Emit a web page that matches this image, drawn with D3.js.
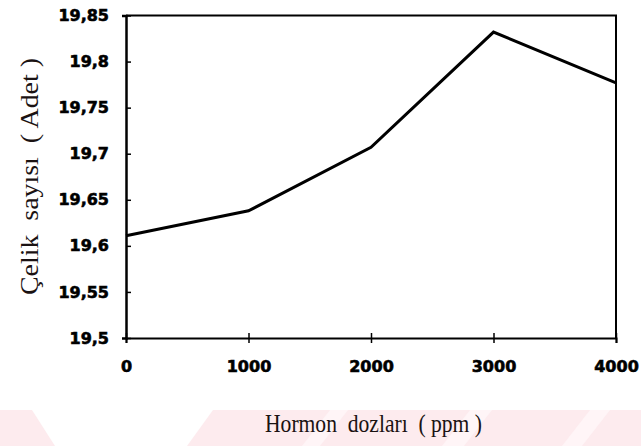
<!DOCTYPE html>
<html>
<head>
<meta charset="utf-8">
<script src="https://cdn.jsdelivr.net/npm/d3@7.9.0/dist/d3.min.js"></script>
<style>
  html, body { margin: 0; padding: 0; background: #fff; }
  svg { display: block; }
  .tick text { font-family: "DejaVu Sans", sans-serif; font-weight: bold; font-size: 16px; fill: #000; stroke: #000; stroke-width: 0.6px; }
  .title { font-family: "Liberation Serif", "DejaVu Serif", serif; font-size: 26px; fill: #1a1212; }
</style>
</head>
<body>
<div id="chart"></div>
<script>
// data
const doses = [0, 1000, 2000, 3000, 4000];
const cuttings = [19.611, 19.638, 19.707, 19.832, 19.777];
const xTicks = [0, 1000, 2000, 3000, 4000];
const yTicks = [19.5, 19.55, 19.6, 19.65, 19.7, 19.75, 19.8, 19.85];

const W = 641, H = 446;
const m = { top: 15.5, right: 25, bottom: 108, left: 126 };

const svg = d3.select('#chart').append('svg').attr('width', W).attr('height', H);

// faint pink watermark band at the bottom
const band = svg.append('g');
band.append('rect').attr('x', 0).attr('y', 410).attr('width', W).attr('height', H - 410).attr('fill', '#fdebee');
band.append('path').attr('d', 'M32,410 L213,410 L187,446 L55,446 Z').attr('fill', '#fff');
[[330, 18], [470, 22], [590, 20]].forEach(([x0, w]) => {
  band.append('path')
    .attr('d', `M${x0},410 L${x0 + w},410 L${x0 + w - 28},446 L${x0 - 28},446 Z`)
    .attr('fill', '#fff5f7');
});

const x = d3.scaleLinear().domain([0, 4000]).range([m.left, W - m.right]);
const y = d3.scaleLinear().domain([19.5, 19.85]).range([H - m.bottom, m.top]);
const fmt = d => String(+d.toFixed(2)).replace('.', ',');

// frame: top and right borders
svg.append('path')
  .attr('d', `M${x(0)},${y(19.85)} H${x(4000)} V${y(19.5)}`)
  .attr('fill', 'none').attr('stroke', '#000').attr('stroke-width', 2);

const gx = svg.append('g').attr('transform', `translate(0,${y(19.5)})`)
  .call(d3.axisBottom(x).tickValues(xTicks).tickFormat(d3.format('d')).tickSize(5).tickPadding(18));
gx.select('.domain').attr('stroke-width', 2);
gx.selectAll('.tick line').attr('y1', -5).attr('stroke-width', 1.5);

const gy = svg.append('g').attr('transform', `translate(${x(0)},0)`)
  .call(d3.axisLeft(y).tickValues(yTicks).tickFormat(fmt).tickSize(4).tickPadding(13));
gy.select('.domain').attr('stroke-width', 2.5);
gy.selectAll('.tick line').attr('x2', 5).attr('stroke-width', 1.5);

// data line
svg.append('path')
  .datum(doses.map((d, i) => [d, cuttings[i]]))
  .attr('fill', 'none').attr('stroke', '#000').attr('stroke-width', 3)
  .attr('stroke-linejoin', 'miter')
  .attr('d', d3.line().x(d => x(d[0])).y(d => y(d[1])));

svg.append('text').attr('class', 'title')
  .attr('x', 265).attr('y', 432)
  .attr('textLength', 217).attr('lengthAdjust', 'spacingAndGlyphs')
  .attr('xml:space', 'preserve')
  .text('Hormon  dozları  ( ppm )');

svg.append('text').attr('class', 'title')
  .attr('transform', 'translate(38,295) rotate(-90)')
  .attr('textLength', 237).attr('lengthAdjust', 'spacingAndGlyphs')
  .attr('xml:space', 'preserve')
  .text('Çelik  sayısı  ( Adet )');
</script>
</body>
</html>
